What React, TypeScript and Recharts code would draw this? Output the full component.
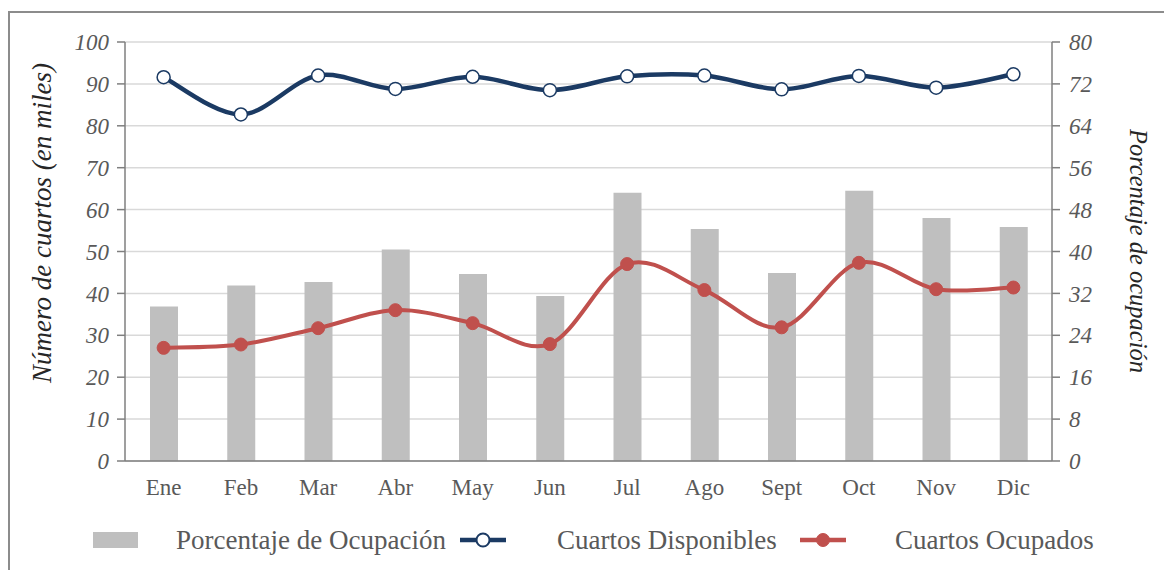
import React from 'react';
import { ComposedChart, Bar, Line, XAxis, YAxis, CartesianGrid, Legend } from 'recharts';

const months = ['Ene', 'Feb', 'Mar', 'Abr', 'May', 'Jun', 'Jul', 'Ago', 'Sept', 'Oct', 'Nov', 'Dic'];
const porcentajeOcupacion = [29.5, 33.5, 34.2, 40.4, 35.7, 31.5, 51.2, 44.3, 35.9, 51.6, 46.4, 44.7];
const cuartosDisponibles = [91.6, 82.7, 92.0, 88.8, 91.7, 88.5, 91.8, 92.0, 88.7, 91.9, 89.1, 92.3];
const cuartosOcupados = [27.0, 27.8, 31.7, 36.0, 32.9, 27.9, 47.0, 40.8, 31.9, 47.3, 41.0, 41.4];
const leftTicks = [0, 10, 20, 30, 40, 50, 60, 70, 80, 90, 100];
const rightTicks = [0, 8, 16, 24, 32, 40, 48, 56, 64, 72, 80];

const data = months.map((m, i) => ({
  month: m,
  pct: porcentajeOcupacion[i],
  disp: cuartosDisponibles[i],
  ocup: cuartosOcupados[i],
}));

const SERIF = '"Liberation Serif", "DejaVu Serif", serif';
const NAVY = '#1b3a63';
const RED = '#c0504d';
const BARGRAY = '#bfbfbf';
const AXIS = '#7f7f7f';
const TEXT = '#595959';

// Catmull-Rom style smoothing similar to Excel's smoothed lines
const smoothCurve = (context: any) => {
  let pts: [number, number][] = [];
  return {
    areaStart() {},
    areaEnd() {},
    lineStart() {
      pts = [];
    },
    point(x: number, y: number) {
      pts.push([+x, +y]);
    },
    lineEnd() {
      if (!pts.length) return;
      context.moveTo(pts[0][0], pts[0][1]);
      const k = 1 / 6;
      for (let i = 0; i < pts.length - 1; i++) {
        const p0 = pts[i - 1] || pts[i];
        const p1 = pts[i];
        const p2 = pts[i + 1];
        const p3 = pts[i + 2] || pts[i + 1];
        context.bezierCurveTo(
          p1[0] + k * (p2[0] - p0[0]),
          p1[1] + k * (p2[1] - p0[1]),
          p2[0] - k * (p3[0] - p1[0]),
          p2[1] - k * (p3[1] - p1[1]),
          p2[0],
          p2[1]
        );
      }
    },
  };
};

const LeftTitle = (props: any) => {
  const vb = props.viewBox || { x: 0, y: 0, width: 0, height: 0 };
  const cx = vb.x + 42;
  const cy = 223;
  return (
    <text
      x={cx}
      y={cy}
      transform={`rotate(-90 ${cx} ${cy})`}
      textAnchor="middle"
      dominantBaseline="central"
      fontFamily={SERIF}
      fontStyle="italic"
      fontSize={27}
      fill="#262626"
    >
      Número de cuartos (en miles)
    </text>
  );
};

const RightTitle = (props: any) => {
  const vb = props.viewBox || { x: 0, y: 0, width: 0, height: 0 };
  const cx = vb.x + 86;
  const cy = 251;
  return (
    <text
      x={cx}
      y={cy}
      transform={`rotate(90 ${cx} ${cy})`}
      textAnchor="middle"
      dominantBaseline="central"
      fontFamily={SERIF}
      fontStyle="italic"
      fontSize={24.5}
      fill="#262626"
    >
      Porcentaje de ocupación
    </text>
  );
};

const legendItems = [
  { label: 'Porcentaje de Ocupación', kind: 'bar', color: BARGRAY, left: 93, gap: 37 },
  { label: 'Cuartos Disponibles', kind: 'open', color: NAVY, left: 460, gap: 51 },
  { label: 'Cuartos Ocupados', kind: 'filled', color: RED, left: 800, gap: 49 },
];

const LegendContent = () => (
  <div style={{ position: 'relative', width: 1164, height: 50 }}>
    {legendItems.map((it) => (
      <div
        key={it.label}
        style={{
          position: 'absolute',
          left: it.left,
          top: 0,
          height: 50,
          display: 'flex',
          alignItems: 'center',
          whiteSpace: 'nowrap',
        }}
      >
        <svg width={46} height={20} style={{ display: 'block' }}>
          {it.kind === 'bar' ? (
            <rect x={0} y={2} width={45} height={16} fill={it.color} />
          ) : (
            <g>
              <line x1={0} y1={10} x2={46} y2={10} stroke={it.color} strokeWidth={4.5} />
              <circle
                cx={23}
                cy={10}
                r={6.5}
                fill={it.kind === 'open' ? '#ffffff' : it.color}
                stroke={it.color}
                strokeWidth={it.kind === 'open' ? 2 : 1}
              />
            </g>
          )}
        </svg>
        <span
          style={{
            marginLeft: it.gap,
            fontFamily: SERIF,
            fontSize: 27,
            color: TEXT,
          }}
        >
          {it.label}
        </span>
      </div>
    ))}
  </div>
);

export default function App() {
  return (
    <div style={{ position: 'absolute', left: 0, top: 0, width: 1164, height: 570, background: '#ffffff', overflow: 'hidden' }}>
      <div
        style={{
          position: 'absolute',
          left: 8,
          top: 11,
          width: 1200,
          height: 600,
          borderTop: '2px solid #8c8c8c',
          borderLeft: '2px solid #8c8c8c',
        }}
      />
      <div style={{ position: 'absolute', left: 0, top: 0 }}>
        <ComposedChart
          width={1164}
          height={570}
          data={data}
          margin={{ top: 42, right: 0, left: 0, bottom: 19 }}
          barCategoryGap={0}
        >
          <CartesianGrid vertical={false} stroke="#d9d9d9" strokeWidth={1.5} yAxisId="left" />
          <XAxis
            dataKey="month"
            height={40}
            tickLine={false}
            tickSize={0}
            tickMargin={18}
            axisLine={{ stroke: AXIS, strokeWidth: 1.5 }}
            tick={{ fill: TEXT, fontSize: 23, fontFamily: SERIF }}
            interval={0}
          />
          <YAxis
            yAxisId="left"
            orientation="left"
            width={125}
            domain={[0, 100]}
            ticks={leftTicks}
            interval={0}
            tickSize={8}
            tickMargin={8}
            axisLine={{ stroke: AXIS, strokeWidth: 1.5 }}
            tickLine={{ stroke: AXIS, strokeWidth: 1.5 }}
            tick={{ fill: TEXT, fontSize: 23, fontStyle: 'italic', fontFamily: SERIF }}
            label={<LeftTitle />}
          />
          <YAxis
            yAxisId="right"
            orientation="right"
            width={112}
            domain={[0, 80]}
            ticks={rightTicks}
            interval={0}
            tickSize={8}
            tickMargin={9}
            axisLine={{ stroke: AXIS, strokeWidth: 1.5 }}
            tickLine={{ stroke: AXIS, strokeWidth: 1.5 }}
            tick={{ fill: TEXT, fontSize: 23, fontStyle: 'italic', fontFamily: SERIF }}
            label={<RightTitle />}
          />
          <Legend
            verticalAlign="bottom"
            content={<LegendContent />}
            wrapperStyle={{ left: 0, top: 515, width: 1164, height: 50 }}
          />
          <Bar
            yAxisId="right"
            dataKey="pct"
            name="Porcentaje de Ocupación"
            fill={BARGRAY}
            barSize={28}
            isAnimationActive={false}
          />
          <Line
            yAxisId="left"
            dataKey="ocup"
            name="Cuartos Ocupados"
            type={smoothCurve as any}
            stroke={RED}
            strokeWidth={4}
            dot={{ r: 6.5, fill: RED, stroke: RED, strokeWidth: 1 }}
            activeDot={false}
            isAnimationActive={false}
          />
          <Line
            yAxisId="left"
            dataKey="disp"
            name="Cuartos Disponibles"
            type={smoothCurve as any}
            stroke={NAVY}
            strokeWidth={4.5}
            dot={{ r: 6.5, fill: '#ffffff', stroke: NAVY, strokeWidth: 1.5 }}
            activeDot={false}
            isAnimationActive={false}
          />
        </ComposedChart>
      </div>
    </div>
  );
}
